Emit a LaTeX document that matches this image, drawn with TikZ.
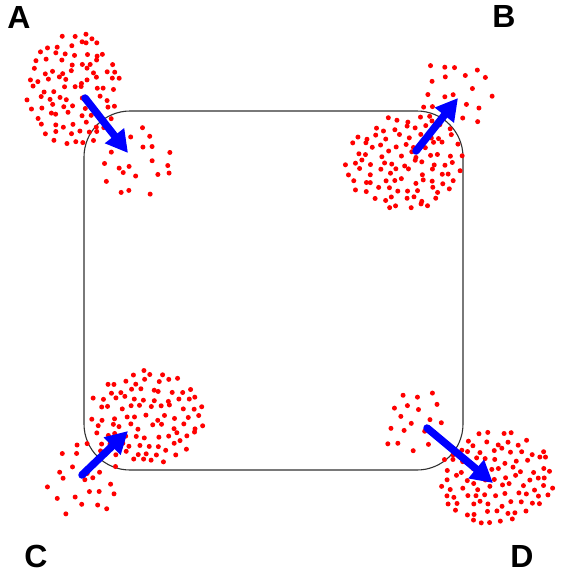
\documentclass[tikz,border=0pt]{standalone}
\usepackage{fontspec}
\setmainfont{Liberation Sans}
\usetikzlibrary{arrows.meta}
\definecolor{dotred}{RGB}{255,0,0}
\definecolor{arrblue}{RGB}{0,0,255}
\definecolor{framegray}{RGB}{50,50,50}
% jittered hexagonal grid of dots inside an ellipse: cx, cy, rx, ry, spacing
\newcommand\dotgrid[5]{%
  \foreach \i in {-8,...,8}{%
    \foreach \j in {-8,...,8}{%
      \pgfmathsetmacro\ddx{(\i+0.5*abs(mod(\j,2)))*#5 + 0.33*#5*rand}%
      \pgfmathsetmacro\ddy{\j*#5*0.866 + 0.33*#5*rand}%
      \pgfmathsetmacro\inside{(\ddx/#3)^2+(\ddy/#4)^2}%
      \ifdim\inside pt<1pt
        \fill[dotred] ({#1+\ddx},{#2+\ddy}) circle (2.5);
      \fi
    }}}
\tikzset{
  frame/.style={draw=framegray, line width=1.1, rounded corners=46},
  bigarrow/.style={draw=arrblue, line width=7.5, line cap=round,
    -{Triangle[length=22,width=23]}},
  letter/.style={font=\bfseries\fontsize{32}{32}\selectfont, inner sep=0}
}
\begin{document}
\begin{tikzpicture}[x=1pt,y=-1pt]
\useasboundingbox (0,0) rectangle (575,574);
\fill[white] (0,0) rectangle (575,574);
\draw[frame] (84,111) rectangle (463,470);
\pgfmathsetseed{4242}
% A
\dotgrid{74}{89}{48}{57}{10.2}
\dotgrid{133}{163}{39}{39}{15.5}
% B
\dotgrid{404}{163}{59}{49}{10.2}
\dotgrid{458}{93}{39}{39}{15.5}
% C
\dotgrid{146}{417}{58}{48}{10.2}
\dotgrid{80}{482}{41}{39}{15.5}
% D
\dotgrid{496}{478}{58}{48}{10.2}
\dotgrid{415}{420}{35}{39}{15.5}
% arrows
\coordinate (a1) at (85,98);  \coordinate (a2) at (128,153);
\coordinate (b1) at (416,151); \coordinate (b2) at (458,98);
\coordinate (c1) at (82,475); \coordinate (c2) at (128,431);
\coordinate (d1) at (427,428); \coordinate (d2) at (493,483);
\draw[bigarrow] (a1) -- (a2);
\draw[bigarrow] (b1) -- (b2);
\draw[bigarrow] (c1) -- (c2);
\draw[bigarrow] (d1) -- (d2);
% labels
\node[letter] (lA) at (19,17) {A};
\node[letter] (lB) at (504,16) {B};
\node[letter] (lC) at (36,556) {C};
\node[letter] (lD) at (522,556) {D};
\end{tikzpicture}
\end{document}
